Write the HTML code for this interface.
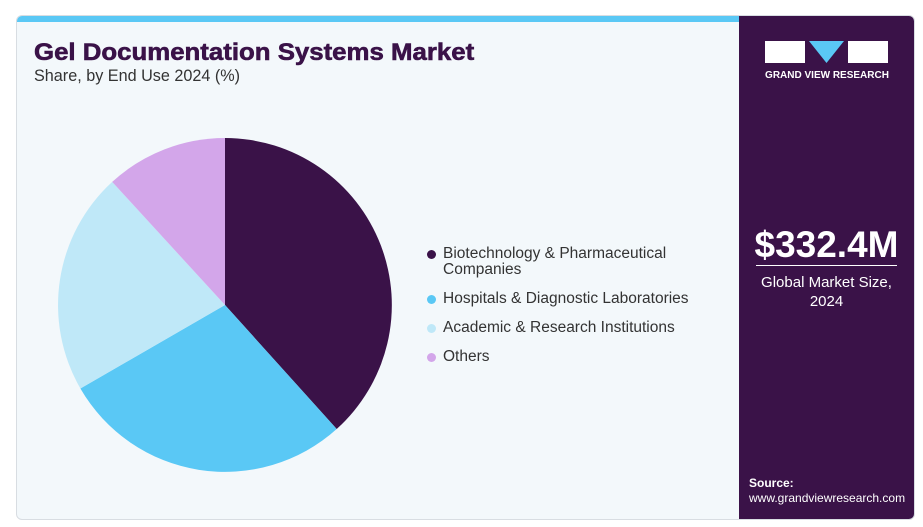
<!DOCTYPE html>
<html><head><style>
body{margin:0;width:923px;height:527px;background:#fff;font-family:"Liberation Sans",sans-serif;position:relative;overflow:hidden}
.card{position:absolute;left:16px;top:15px;width:899px;height:505px;background:#f3f8fb;border:1px solid #d8dde2;border-radius:6px;box-sizing:border-box;overflow:hidden}
.bar{position:absolute;left:0;top:0;width:722px;height:6px;background:#5ac8f5}
.side{position:absolute;left:722px;top:0;right:0;bottom:0;background:#3a1248}
.t{position:absolute;left:17px;top:23px;font-size:24px;font-weight:bold;color:#3a1248;transform:scaleX(1.075);transform-origin:left top;-webkit-text-stroke:0.6px #3a1248}
.s{position:absolute;left:17px;top:51px;font-size:16.2px;color:#333}
.lg{position:absolute;left:443px;font-size:15.5px;color:#333;line-height:16px}
.lg i{position:absolute;left:-16px;top:4px;width:9px;height:9px;border-radius:50%}
</style></head><body>
<div class="card">
<div class="bar"></div>
<div class="side">
<svg width="177" height="60" style="position:absolute;left:0;top:20px">
<rect x="26" y="5" width="40" height="22" fill="#fff"/>
<polygon points="70,5 105,5 87.5,27" fill="#5ac8f5"/>
<rect x="109" y="5" width="40" height="22" fill="#fff"/>
<text x="88" y="42" text-anchor="middle" font-size="10" font-weight="bold" fill="#fff" font-family="Liberation Sans">GRAND VIEW RESEARCH</text>
</svg>
<div style="position:absolute;left:0;right:0;top:208px;text-align:center;color:#fff;font-size:37px;font-weight:bold">$332.4M</div>
<div style="position:absolute;left:17px;right:17px;top:249px;border-top:1px solid #fff"></div>
<div style="position:absolute;left:0;right:0;top:257px;text-align:center;color:#fff;font-size:15px;line-height:19px">Global Market Size,<br>2024</div>
<div style="position:absolute;left:10px;top:460px;color:#fff;font-size:12px;line-height:15px"><b>Source:</b><br>www.grandviewresearch.com</div>
</div>
<div class="t">Gel Documentation Systems Market</div>
<div class="s">Share, by End Use 2024 (%)</div>
</div>
<svg width="923" height="527" style="position:absolute;left:0;top:0">
<path d="M225,305 L225,138 A167,167 0 0 1 336.7,429 Z" fill="#3a1248"/>
<path d="M225,305 L336.7,429 A167,167 0 0 1 80.4,388.5 Z" fill="#5ac8f5"/>
<path d="M225,305 L80.4,388.5 A167,167 0 0 1 112.2,181.9 Z" fill="#bfe8f8"/>
<path d="M225,305 L112.2,181.9 A167,167 0 0 1 225,138 Z" fill="#d3a6ea"/>
</svg>
<div class="lg" style="top:246px"><i style="background:#3a1248"></i>Biotechnology &amp; Pharmaceutical<br>Companies</div>
<div class="lg" style="top:291px"><i style="background:#5ac8f5"></i>Hospitals &amp; Diagnostic Laboratories</div>
<div class="lg" style="top:320px"><i style="background:#bfe8f8"></i>Academic &amp; Research Institutions</div>
<div class="lg" style="top:349px"><i style="background:#d3a6ea"></i>Others</div>
</body></html>
